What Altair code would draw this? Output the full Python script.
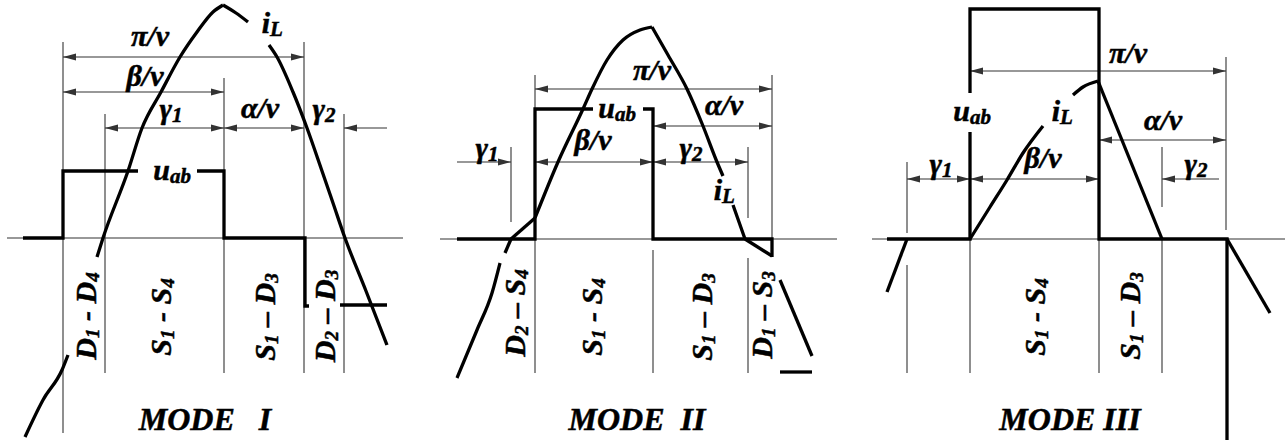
import altair as alt
import pandas as pd

W, H = 1285, 441
FONT = "Liberation Serif"
THICK = 3.3
THIN = 1.1
INK = "#000000"
GUIDE = "#333333"

# ---------------------------------------------------------------------------
# Zero-current axes of the three modes: (x_start, x_end, y)
AXES = [(7, 403, 238), (440, 837, 239), (872, 1285, 239)]

# Thin vertical guide lines: (x, y_top, y_bottom)
GUIDES = [
    # MODE I
    (63, 42, 433), (105, 114, 373), (224, 78, 373), (304, 42, 373), (344, 114, 373),
    # MODE II
    (511, 147, 222), (535, 75, 373), (653, 250, 373), (748, 147, 218), (748, 258, 373),
    (772, 75, 239),
    # MODE III
    (907, 162, 233), (907, 265, 373), (970, 239, 373), (1099, 239, 373),
    (1162, 147, 207), (1162, 239, 373), (1226, 57, 230),
]

# Dimension arrows: (x_left, x_right, y, heads)
ARROWS = [
    # MODE I
    (63, 304, 57, "both"), (63, 224, 92, "both"), (105, 224, 128, "both"),
    (224, 304, 128, "both"), (344, 387, 128, "left"),
    # MODE II
    (535, 772, 89, "both"), (653, 772, 126, "both"), (535, 653, 162, "both"),
    (653, 748, 162, "both"), (457, 511, 162, "right"),
    # MODE III
    (970, 1226, 71, "both"), (1099, 1226, 140, "both"), (907, 970, 179, "both"),
    (970, 1099, 179, "both"), (1162, 1219, 179, "left"),
]

# Bridge voltage u_ab, drawn as polylines
UAB_PATHS = [
    [(23, 238), (63, 238), (63, 171), (138, 171)],
    [(197, 171), (224, 171), (224, 238), (305, 238), (305, 306), (309, 306)],
    [(340, 305), (387, 305)],
    [(457, 239), (535, 239), (535, 109), (593, 109)],
    [(643, 109), (653, 109), (653, 239), (772, 239), (772, 257)],
    [(780, 372), (812, 372)],
    [(887, 239), (970, 239), (970, 132)],
    [(970, 93), (970, 9), (1099, 9), (1099, 239), (1227, 239), (1227, 440)],
]

# Inductor current i_L, drawn as smooth pieces
IL_PATHS = [
    # MODE I
    [(25, 437), (43, 400), (62, 370), (68, 355)],
    [(97, 257), (103, 238), (128, 171), (142, 128), (161, 92), (180, 57),
     (197, 32), (213, 12), (223, 5)],
    [(223, 5), (236, 13), (248, 22)],
    [(269, 45), (277, 57), (293, 92), (307, 128), (322, 171), (333, 203),
     (345, 238), (366, 291), (387, 345)],
    # MODE II
    [(457, 378), (477, 330), (492, 293), (500, 263)],
    [(505, 253), (511, 239)],
    [(511, 239), (535, 218)],
    [(535, 218), (558, 162), (583, 109), (592, 89), (607, 60),
     (623, 40), (640, 30), (652, 27)],
    [(652, 27), (668, 55), (687, 89), (703, 126), (717, 162), (723, 176)],
    [(733, 205), (745, 239)],
    [(745, 239), (772, 256)],
    [(780, 280), (812, 356)],
    # MODE III
    [(887, 292), (907, 239)],
    [(970, 239), (990, 207), (1007, 180), (1023, 153), (1043, 126)],
    [(1073, 95), (1083, 87), (1098, 81)],
    [(1098, 81), (1162, 239)],
    [(1227, 239), (1270, 313)],
]

# Interval labels without subscripts: (text, x_center, baseline)
PLAIN_LABELS = [
    ("π/v", 150, 46), ("β/v", 145, 86), ("α/v", 260, 118),
    ("π/v", 652, 80), ("α/v", 724, 115), ("β/v", 593, 150),
    ("π/v", 1128, 63), ("α/v", 1163, 130), ("β/v", 1043, 168),
]

# Labels with a subscript: (main, sub, x_split, baseline)
SUB_LABELS = [
    ("γ", "1", 172, 119), ("γ", "2", 325, 119), ("i", "L", 270, 33), ("u", "ab", 170, 180),
    ("γ", "1", 488, 158), ("γ", "2", 692, 158), ("u", "ab", 615, 118), ("i", "L", 722, 200),
    ("γ", "1", 942, 174), ("γ", "2", 1197, 174), ("u", "ab", 970, 121), ("i", "L", 1060, 121),
]

# Conducting devices of each interval, written bottom-to-top.
# Part kinds: 0 = normal glyphs, 1 = subscript, 2 = blank space
SP = (" ", 2)
DEVICE_LABELS = [
    ([("D", 0), ("1", 1), SP, ("-", 0), SP, ("D", 0), ("4", 1)], 96, 316),
    ([("S", 0), ("1", 1), SP, ("-", 0), SP, ("S", 0), ("4", 1)], 171, 317),
    ([("S", 0), ("1", 1), SP, ("–", 0), SP, ("D", 0), ("3", 1)], 275, 317),
    ([("D", 0), ("2", 1), SP, ("–", 0), SP, ("D", 0), ("3", 1)], 335, 316),
    ([("D", 0), ("2", 1), SP, ("–", 0), SP, ("S", 0), ("4", 1)], 525, 313),
    ([("S", 0), ("1", 1), SP, ("-", 0), SP, ("S", 0), ("4", 1)], 602, 317),
    ([("S", 0), ("1", 1), SP, ("–", 0), SP, ("D", 0), ("3", 1)], 712, 317),
    ([("D", 0), ("1", 1), SP, ("–", 0), SP, ("S", 0), ("3", 1)], 772, 315),
    ([("S", 0), ("1", 1), SP, ("-", 0), SP, ("S", 0), ("4", 1)], 1045, 317),
    ([("S", 0), ("1", 1), SP, ("–", 0), SP, ("D", 0), ("3", 1)], 1140, 316),
]

# Panel titles: (text, x_center, baseline)
NB = "\u00a0"
TITLES = [
    ("MODE" + NB * 3 + "I", 205, 430),
    ("MODE" + NB * 2 + "II", 637, 430),
    ("MODE" + NB + "III", 1070, 430),
]

# ---------------------------------------------------------------------------
LABEL_SIZE = 30
LABEL_SUB = 21
DEV_SIZE = 30
DEV_SUB = 19
DEV_SUB_SHIFT = 2.5
TITLE_SIZE = 32
TEXT_STROKE = 0.5

# Advance widths (per 1000 em) of the serif bold italic face
ADV = {"D": 722, "S": 556, "1": 500, "2": 500, "3": 500, "4": 500,
       "-": 333, "–": 500, " ": 250}

xs = alt.Scale(domain=[0, W], range=[0, W], nice=False, zero=False)
ys = alt.Scale(domain=[0, H], range=[0, H], nice=False, zero=False)


def X(f="x"):
    return alt.X(f"{f}:Q", scale=xs, axis=None)


def Y(f="y"):
    return alt.Y(f"{f}:Q", scale=ys, axis=None)


# segments table for thin lines
seg_rows = [dict(x=a, x2=b, y=y, y2=y) for a, b, y in AXES]
seg_rows += [dict(x=x, x2=x, y=t, y2=b) for x, t, b in GUIDES]
seg_rows += [dict(x=a, x2=b, y=y, y2=y) for a, b, y, _ in ARROWS]
segs = pd.DataFrame(seg_rows)

thin = alt.Chart(segs).mark_rule(color=GUIDE, strokeWidth=THIN).encode(
    x=X(), x2="x2:Q", y=Y(), y2="y2:Q"
)

# arrow heads
head_l = pd.DataFrame([dict(x=a, y=y) for a, b, y, h in ARROWS if h in ("both", "left")])
head_r = pd.DataFrame([dict(x=b, y=y) for a, b, y, h in ARROWS if h in ("both", "right")])
PATH_R = "M0,0L-2,-0.55L-2,0.55Z"
PATH_L = "M0,0L2,-0.55L2,0.55Z"
heads_left = alt.Chart(head_l).mark_point(
    shape=PATH_L, size=169, filled=True, color=GUIDE, opacity=1, strokeWidth=0
).encode(x=X(), y=Y())
heads_right = alt.Chart(head_r).mark_point(
    shape=PATH_R, size=169, filled=True, color=GUIDE, opacity=1, strokeWidth=0
).encode(x=X(), y=Y())


def path_frame(paths, prefix):
    rows = []
    for k, pts in enumerate(paths):
        for i, (x, y) in enumerate(pts):
            rows.append(dict(pid=f"{prefix}{k}", seq=i, x=x, y=y))
    return pd.DataFrame(rows)


uab = alt.Chart(path_frame(UAB_PATHS, "u")).mark_line(
    color=INK, strokeWidth=THICK, strokeJoin="miter", interpolate="linear"
).encode(x=X(), y=Y(), detail="pid:N", order="seq:Q")

il = alt.Chart(path_frame(IL_PATHS, "i")).mark_line(
    color=INK, strokeWidth=THICK, interpolate="monotone"
).encode(x=X(), y=Y(), detail="pid:N", order="seq:Q")

# text tables
plain = pd.DataFrame([dict(text=t, x=x, y=y) for t, x, y in PLAIN_LABELS])
titles = pd.DataFrame([dict(text=t, x=x, y=y) for t, x, y in TITLES])
sub_main = pd.DataFrame([dict(text=m, x=x, y=y) for m, s, x, y in SUB_LABELS])
sub_low = pd.DataFrame([dict(text=s, x=x, y=y + 3) for m, s, x, y in SUB_LABELS])

dev_rows = []
for parts, xb, yc in DEVICE_LABELS:
    widths = []
    for t, kind in parts:
        sz = DEV_SUB if kind == 1 else DEV_SIZE
        widths.append(sum(ADV.get(c, 500) for c in t) / 1000 * sz)
    yy = yc + sum(widths) / 2
    for (t, kind), w in zip(parts, widths):
        if kind != 2:
            dev_rows.append(dict(text=t, x=xb + (DEV_SUB_SHIFT if kind == 1 else 0), y=yy,
                                 size=DEV_SUB if kind == 1 else DEV_SIZE))
        yy -= w
dev = pd.DataFrame(dev_rows)

txt_kw = dict(font=FONT, fontStyle="italic", fontWeight="bold", color=INK,
              baseline="alphabetic", stroke=INK, strokeWidth=TEXT_STROKE)

plain_t = alt.Chart(plain).mark_text(align="center", fontSize=LABEL_SIZE, **txt_kw).encode(
    x=X(), y=Y(), text="text:N")
title_t = alt.Chart(titles).mark_text(align="center", fontSize=TITLE_SIZE, **txt_kw).encode(
    x=X(), y=Y(), text="text:N")
main_t = alt.Chart(sub_main).mark_text(align="right", fontSize=LABEL_SIZE, **txt_kw).encode(
    x=X(), y=Y(), text="text:N")
low_t = alt.Chart(sub_low).mark_text(align="left", fontSize=LABEL_SUB, **txt_kw).encode(
    x=X(), y=Y(), text="text:N")
dev_t = alt.Chart(dev).mark_text(align="left", angle=270, **txt_kw).encode(
    x=X(), y=Y(), text="text:N", size=alt.Size("size:Q", scale=None, legend=None))

chart = alt.layer(
    thin, heads_left, heads_right, uab, il,
    plain_t, title_t, main_t, low_t, dev_t,
).properties(
    width=W, height=H, padding=0, autosize=alt.AutoSizeParams(type="none"),
    background="white",
).configure_view(stroke=None)

chart.save("out.html", embed_options={"renderer": "svg", "actions": False})
